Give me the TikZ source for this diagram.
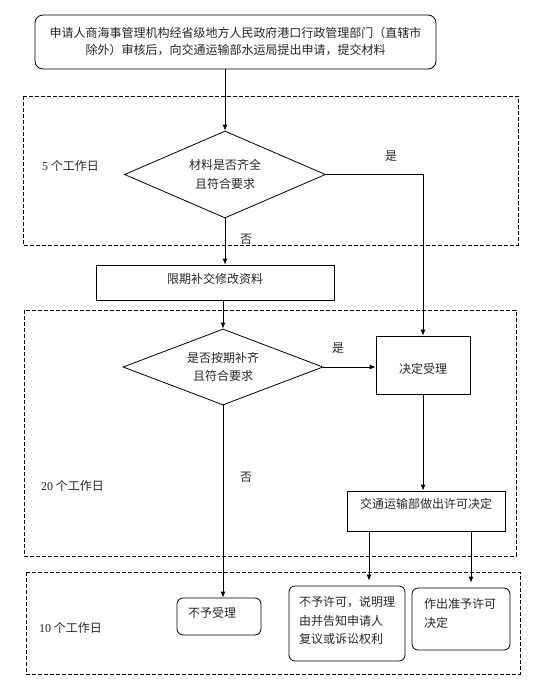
\documentclass[tikz,border=0pt]{standalone}
\usepackage{fontspec}
\setmainfont{Liberation Serif}
\newfontfamily\cjk{Noto Sans CJK SC}
\usetikzlibrary{shapes.geometric,arrows.meta}

\begin{document}
\begin{tikzpicture}[x=1pt,y=-1pt,
  every node/.style={font=\cjk\fontsize{12}{18}\selectfont, text=black!85, inner sep=0pt},
  box/.style={draw, line width=0.8pt},
  roundbox/.style={draw, line width=0.8pt, rounded corners=6pt},
  choice/.style={draw, line width=0.8pt, shape=diamond, align=center},
  frame/.style={line width=0.9pt, dash pattern=on 4pt off 2pt},
  arr/.style={line width=0.8pt, -{Latex[length=6pt,width=5pt]}}]
\useasboundingbox (0,0) rectangle (542,697);
% dashed frames
\draw[frame] (23,96) rectangle (518,245);
\draw[frame] (24,310) rectangle (516,556);
\draw[frame] (26,572) rectangle (520,674);
\node[anchor=west] (days5) at (42,166) {{\rmfamily 5} 个工作日};
\node[anchor=west] (days20) at (41,486) {{\rmfamily 20} 个工作日};
\node[anchor=west] (days10) at (39,628) {{\rmfamily 10} 个工作日};
% boxes
\node[roundbox, rounded corners=8pt, minimum width=401pt, minimum height=54pt, align=center,
  font=\cjk\fontsize{12}{17}\selectfont] (apply) at (235.5,42)
  {申请人商海事管理机构经省级地方人民政府港口行政管理部门（直辖市\\除外）审核后，向交通运输部水运局提出申请，提交材料};
\node[choice, aspect=2.3, minimum width=201pt, minimum height=87pt, font=\cjk\fontsize{12}{19}\selectfont] (check) at (225,174.5) {材料是否齐全\\且符合要求};
\node[box, minimum width=238pt, minimum height=35pt, text height=10pt, text depth=8pt] (fix) at (215,282.5) {限期补交修改资料};
\node[choice, aspect=2.6, minimum width=200pt, minimum height=76pt, font=\cjk\fontsize{12}{18}\selectfont] (recheck) at (223,367) {是否按期补齐\\且符合要求};
\node[box, minimum width=94pt, minimum height=58pt, text height=16pt, text depth=0pt] (accept) at (423,365) {决定受理};
\node[box, minimum width=158pt, minimum height=40pt, text height=10pt, text depth=15pt] (decide) at (426,511) {交通运输部做出许可决定};
\node[roundbox, minimum width=84pt, minimum height=37pt, text width=62pt, inner xsep=11pt, align=left,
  text height=10pt, text depth=8pt] (reject) at (219,616.5) {不予受理};
\node[roundbox, minimum width=116pt, minimum height=75pt, text width=96pt, inner xsep=10pt, align=left,
  font=\cjk\fontsize{12}{18.5}\selectfont, text height=10pt, text depth=44pt] (refuse) at (347,623.5)
  {不予许可，说明理\\由并告知申请人\\复议或诉讼权利};
\node[roundbox, minimum width=98pt, minimum height=62pt, text width=74pt, inner xsep=12pt, align=left,
  font=\cjk\fontsize{12}{19}\selectfont, text height=10pt, text depth=31pt] (grant) at (461,619)
  {作出准予许可\\决定};
% yes / no
\node (yes1) at (391,156) {是};
\node (no1) at (246,239) {否};
\node (yes2) at (338,348) {是};
\node (no2) at (246,477) {否};
% connectors
\coordinate (d1) at ([xshift=-57pt]decide.south);
\coordinate (d2) at ([xshift=45pt]decide.south);
\draw[arr] (check.north |- apply.south) -- (check.north);
\draw[arr] (check.east) -| (accept.north);
\draw[arr] (check.south) -- (check.south |- fix.north);
\draw[arr] (recheck.north |- fix.south) -- (recheck.north);
\draw[arr] (recheck.east) -- (recheck.east -| accept.west);
\draw[arr] (recheck.south) -- (recheck.south |- reject.north);
\draw[arr] (accept.south) -- (accept.south |- decide.north);
\draw[arr, shorten >=5pt] (d1) -- (d1 |- refuse.north);
\draw[arr, shorten >=5pt] (d2) -- (d2 |- grant.north);
\end{tikzpicture}
\end{document}
